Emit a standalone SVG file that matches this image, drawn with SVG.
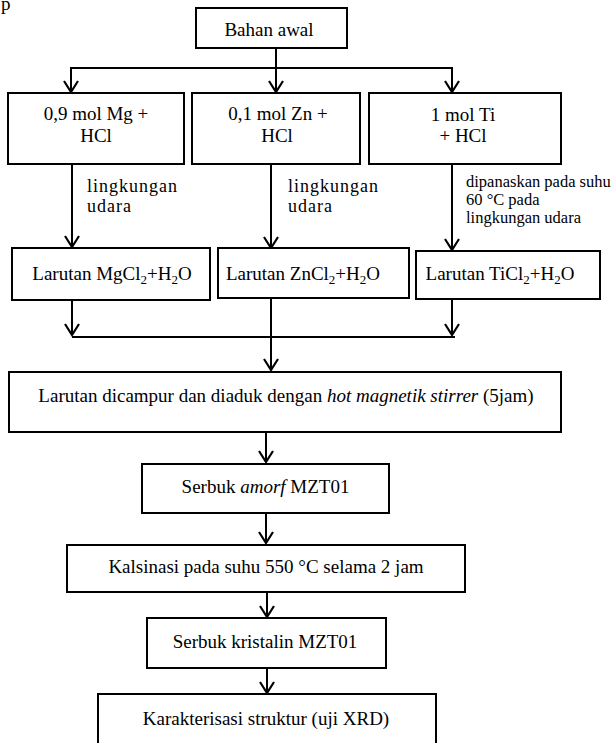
<svg xmlns="http://www.w3.org/2000/svg" width="614" height="743" viewBox="0 0 614 743">
<style>
  text { font-family: "Liberation Serif", "Times New Roman", serif; font-size: 19px; fill: #000; }
  .c { text-anchor: middle; }
  .lbl { font-size: 18px; letter-spacing: 1px; }
  .sm { font-size: 16.5px; }
  .sub { font-size: 13px; }
  .it { font-style: italic; }
  rect { fill: #fff; stroke: #000; stroke-width: 2; }
  .ln { fill: none; stroke: #000; stroke-width: 2; }
</style>
<defs>
  <marker id="ah" viewBox="0 0 14 16" refX="12" refY="8" markerWidth="14" markerHeight="16" markerUnits="userSpaceOnUse" orient="auto">
    <path d="M1,1 L12,8 L1,15" fill="none" stroke="#000" stroke-width="2.2"/>
  </marker>
</defs>

<text x="1" y="10" font-size="20">p</text>

<g id="connectors">
  <path class="ln" d="M71,68 H453"/>
  <path class="ln" d="M71,67 V92" marker-end="url(#ah)"/>
  <path class="ln" d="M276,48 V92" marker-end="url(#ah)"/>
  <path class="ln" d="M452,67 V92" marker-end="url(#ah)"/>
  <path class="ln" d="M72,164 V247" marker-end="url(#ah)"/>
  <path class="ln" d="M271,164 V248" marker-end="url(#ah)"/>
  <path class="ln" d="M452,164 V250" marker-end="url(#ah)"/>
  <path class="ln" d="M72,300 V335" marker-end="url(#ah)"/>
  <path class="ln" d="M452,299 V335" marker-end="url(#ah)"/>
  <path class="ln" d="M72,337 H455"/>
  <path class="ln" d="M271,298 V370" marker-end="url(#ah)"/>
  <path class="ln" d="M266,432 V462" marker-end="url(#ah)"/>
  <path class="ln" d="M266,513 V543" marker-end="url(#ah)"/>
  <path class="ln" d="M267,592 V617" marker-end="url(#ah)"/>
  <path class="ln" d="M267,668 V693" marker-end="url(#ah)"/>
</g>

<g id="n-bahan">
  <rect x="196" y="8" width="151" height="40"/>
  <text class="c" x="269" y="36">Bahan awal</text>
</g>

<g id="n-mg">
  <rect x="8" y="93" width="176" height="71"/>
  <text class="c" x="96" y="120">0,9 mol Mg +</text>
  <text class="c" x="96" y="142">HCl</text>
</g>
<g id="n-zn">
  <rect x="192" y="93" width="168" height="71"/>
  <text class="c" x="278" y="120">0,1 mol Zn +</text>
  <text class="c" x="277" y="142">HCl</text>
</g>
<g id="n-ti">
  <rect x="369" y="93" width="192" height="71"/>
  <text class="c" x="463" y="121">1 mol Ti</text>
  <text class="c" x="463" y="142">+ HCl</text>
</g>

<g id="lbl-mg">
  <text class="lbl" x="87" y="192">lingkungan</text>
  <text class="lbl" x="87" y="212">udara</text>
</g>
<g id="lbl-zn">
  <text class="lbl" x="288" y="192">lingkungan</text>
  <text class="lbl" x="288" y="212">udara</text>
</g>
<g id="lbl-ti">
  <text class="sm" x="466" y="187">dipanaskan pada suhu</text>
  <text class="sm" x="466" y="205">60 °C pada</text>
  <text class="sm" x="466" y="223">lingkungan udara</text>
</g>

<g id="n-mgcl">
  <rect x="12" y="248" width="198" height="52"/>
  <text class="c" x="112" y="280">Larutan MgCl<tspan class="sub" dy="4">2</tspan><tspan dy="-4">+H</tspan><tspan class="sub" dy="4">2</tspan><tspan dy="-4">O</tspan></text>
</g>
<g id="n-zncl">
  <rect x="218" y="248" width="191" height="50"/>
  <text class="c" x="303" y="280">Larutan ZnCl<tspan class="sub" dy="4">2</tspan><tspan dy="-4">+H</tspan><tspan class="sub" dy="4">2</tspan><tspan dy="-4">O</tspan></text>
</g>
<g id="n-ticl">
  <rect x="416" y="251" width="184" height="48"/>
  <text class="c" x="500" y="280">Larutan TiCl<tspan class="sub" dy="4">2</tspan><tspan dy="-4">+H</tspan><tspan class="sub" dy="4">2</tspan><tspan dy="-4">O</tspan></text>
</g>

<g id="n-campur">
  <rect x="9" y="372" width="552" height="60"/>
  <text class="c" x="286" y="402">Larutan dicampur dan diaduk dengan <tspan class="it">hot magnetik stirrer</tspan> (5jam)</text>
</g>

<g id="n-amorf">
  <rect x="142" y="464" width="247" height="49"/>
  <text class="c" x="265.5" y="493">Serbuk <tspan class="it">amorf</tspan>  MZT01</text>
</g>

<g id="n-kalsinasi">
  <rect x="67" y="545" width="398" height="47"/>
  <text class="c" x="266" y="573">Kalsinasi pada suhu 550 °C selama 2 jam</text>
</g>

<g id="n-kristalin">
  <rect x="147" y="618" width="239" height="50"/>
  <text class="c" x="265" y="648">Serbuk kristalin MZT01</text>
</g>

<g id="n-xrd">
  <rect x="98" y="694" width="338" height="60"/>
  <text class="c" x="266" y="725">Karakterisasi struktur (uji XRD)</text>
</g>
</svg>
